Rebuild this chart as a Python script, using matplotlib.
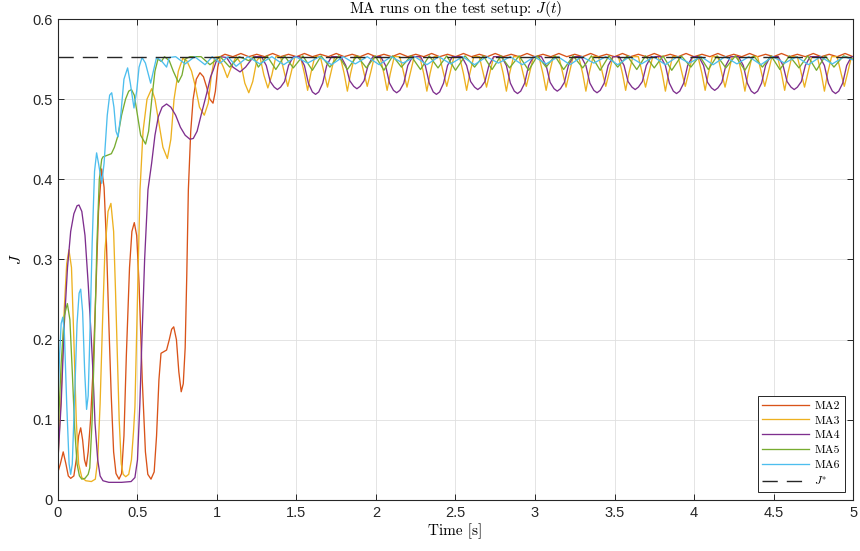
import numpy as np
import matplotlib
matplotlib.use('Agg')
import matplotlib.pyplot as plt

plt.rcParams['mathtext.fontset'] = 'cm'
plt.rcParams['axes.unicode_minus'] = False

# values, (time [s], J)
ma2 = [
    (0.000, 0.035), (0.015, 0.045), (0.033, 0.060), (0.050, 0.045), (0.065, 0.030), (0.080, 0.027), (0.100, 0.030), (0.115, 0.050),
    (0.130, 0.080), (0.143, 0.090), (0.155, 0.075), (0.167, 0.050), (0.178, 0.042), (0.190, 0.060), (0.205, 0.100), (0.220, 0.160),
    (0.240, 0.270), (0.255, 0.360), (0.275, 0.413), (0.290, 0.390), (0.305, 0.320), (0.320, 0.220), (0.335, 0.130), (0.350, 0.060),
    (0.365, 0.033), (0.384, 0.026), (0.400, 0.033), (0.415, 0.080), (0.430, 0.180), (0.450, 0.290), (0.465, 0.335), (0.480, 0.346),
    (0.495, 0.330), (0.510, 0.270), (0.530, 0.150), (0.550, 0.060), (0.565, 0.032), (0.585, 0.026), (0.605, 0.035), (0.620, 0.080),
    (0.635, 0.150), (0.648, 0.183), (0.665, 0.185), (0.683, 0.187), (0.700, 0.200), (0.715, 0.213), (0.728, 0.216), (0.745, 0.200),
    (0.760, 0.160), (0.775, 0.135), (0.788, 0.145), (0.800, 0.190), (0.810, 0.280), (0.820, 0.387), (0.835, 0.460), (0.850, 0.500),
    (0.870, 0.525), (0.893, 0.533), (0.915, 0.528), (0.935, 0.515), (0.955, 0.500), (0.975, 0.495), (0.990, 0.510), (1.005, 0.540),
    (1.020, 0.553), (1.05, 0.556), (1.10, 0.553), (1.15, 0.557), (1.20, 0.553), (1.25, 0.556), (1.30, 0.553), (1.35, 0.557),
    (1.40, 0.553), (1.45, 0.556), (1.50, 0.553), (1.55, 0.557), (1.60, 0.553), (1.65, 0.556), (1.70, 0.553), (1.75, 0.557),
    (1.80, 0.553), (1.85, 0.556), (1.90, 0.553), (1.95, 0.557), (2.00, 0.553), (2.05, 0.556), (2.10, 0.553), (2.15, 0.557),
    (2.20, 0.553), (2.25, 0.556), (2.30, 0.553), (2.35, 0.557), (2.40, 0.553), (2.45, 0.556), (2.50, 0.553), (2.55, 0.557),
    (2.60, 0.553), (2.65, 0.556), (2.70, 0.553), (2.75, 0.557), (2.80, 0.553), (2.85, 0.556), (2.90, 0.553), (2.95, 0.557),
    (3.00, 0.553), (3.05, 0.556), (3.10, 0.553), (3.15, 0.557), (3.20, 0.553), (3.25, 0.556), (3.30, 0.553), (3.35, 0.557),
    (3.40, 0.553), (3.45, 0.556), (3.50, 0.553), (3.55, 0.557), (3.60, 0.553), (3.65, 0.556), (3.70, 0.553), (3.75, 0.557),
    (3.80, 0.553), (3.85, 0.556), (3.90, 0.553), (3.95, 0.557), (4.00, 0.553), (4.05, 0.556), (4.10, 0.553), (4.15, 0.557),
    (4.20, 0.553), (4.25, 0.556), (4.30, 0.553), (4.35, 0.557), (4.40, 0.553), (4.45, 0.556), (4.50, 0.553), (4.55, 0.557),
    (4.60, 0.553), (4.65, 0.556), (4.70, 0.553), (4.75, 0.557), (4.80, 0.553), (4.85, 0.556), (4.90, 0.553), (4.95, 0.557),
    (5.00, 0.553),
]

ma3 = [
    (0.000, 0.050), (0.020, 0.130), (0.040, 0.240), (0.055, 0.295), (0.069, 0.312), (0.085, 0.290), (0.100, 0.200), (0.115, 0.100),
    (0.130, 0.045), (0.150, 0.028), (0.175, 0.024), (0.210, 0.023), (0.235, 0.026), (0.250, 0.050), (0.265, 0.120), (0.280, 0.220),
    (0.295, 0.310), (0.315, 0.360), (0.333, 0.370), (0.350, 0.335), (0.362, 0.260), (0.372, 0.190), (0.385, 0.100), (0.398, 0.045),
    (0.410, 0.032), (0.426, 0.029), (0.445, 0.032), (0.462, 0.050), (0.475, 0.085), (0.484, 0.116), (0.500, 0.250), (0.516, 0.387),
    (0.535, 0.460), (0.560, 0.500), (0.589, 0.513), (0.610, 0.500), (0.635, 0.470), (0.660, 0.440), (0.688, 0.426), (0.710, 0.450),
    (0.730, 0.500), (0.757, 0.535), (0.785, 0.551), (0.810, 0.548), (0.840, 0.535), (0.865, 0.515), (0.890, 0.490), (0.920, 0.480),
    (0.945, 0.495), (0.965, 0.530), (0.985, 0.552), (1.010, 0.553), (1.040, 0.540), (1.065, 0.527), (1.090, 0.540), (1.120, 0.553),
    (1.150, 0.545), (1.175, 0.520), (1.200, 0.508), (1.225, 0.522), (1.250, 0.548), (1.270, 0.553), (1.295, 0.530), (1.320, 0.514),
    (1.345, 0.530), (1.370, 0.553),
    (1.400, 0.553), (1.425, 0.532), (1.445, 0.516), (1.465, 0.532), (1.490, 0.553),
    (1.525, 0.553), (1.550, 0.532), (1.570, 0.511), (1.590, 0.532), (1.615, 0.553),
    (1.650, 0.553), (1.675, 0.532), (1.695, 0.515), (1.715, 0.532), (1.740, 0.553),
    (1.775, 0.553), (1.800, 0.532), (1.820, 0.510), (1.840, 0.532), (1.865, 0.553),
    (1.900, 0.553), (1.925, 0.532), (1.945, 0.516), (1.965, 0.532), (1.990, 0.553),
    (2.025, 0.553), (2.050, 0.532), (2.070, 0.511), (2.090, 0.532), (2.115, 0.553),
    (2.150, 0.553), (2.175, 0.532), (2.195, 0.515), (2.215, 0.532), (2.240, 0.553),
    (2.275, 0.553), (2.300, 0.532), (2.320, 0.510), (2.340, 0.532), (2.365, 0.553),
    (2.400, 0.553), (2.425, 0.532), (2.445, 0.516), (2.465, 0.532), (2.490, 0.553),
    (2.525, 0.553), (2.550, 0.532), (2.570, 0.511), (2.590, 0.532), (2.615, 0.553),
    (2.650, 0.553), (2.675, 0.532), (2.695, 0.515), (2.715, 0.532), (2.740, 0.553),
    (2.775, 0.553), (2.800, 0.532), (2.820, 0.510), (2.840, 0.532), (2.865, 0.553),
    (2.900, 0.553), (2.925, 0.532), (2.945, 0.516), (2.965, 0.532), (2.990, 0.553),
    (3.025, 0.553), (3.050, 0.532), (3.070, 0.511), (3.090, 0.532), (3.115, 0.553),
    (3.150, 0.553), (3.175, 0.532), (3.195, 0.515), (3.215, 0.532), (3.240, 0.553),
    (3.275, 0.553), (3.300, 0.532), (3.320, 0.510), (3.340, 0.532), (3.365, 0.553),
    (3.400, 0.553), (3.425, 0.532), (3.445, 0.516), (3.465, 0.532), (3.490, 0.553),
    (3.525, 0.553), (3.550, 0.532), (3.570, 0.511), (3.590, 0.532), (3.615, 0.553),
    (3.650, 0.553), (3.675, 0.532), (3.695, 0.515), (3.715, 0.532), (3.740, 0.553),
    (3.775, 0.553), (3.800, 0.532), (3.820, 0.510), (3.840, 0.532), (3.865, 0.553),
    (3.900, 0.553), (3.925, 0.532), (3.945, 0.516), (3.965, 0.532), (3.990, 0.553),
    (4.025, 0.553), (4.050, 0.532), (4.070, 0.511), (4.090, 0.532), (4.115, 0.553),
    (4.150, 0.553), (4.175, 0.532), (4.195, 0.515), (4.215, 0.532), (4.240, 0.553),
    (4.275, 0.553), (4.300, 0.532), (4.320, 0.510), (4.340, 0.532), (4.365, 0.553),
    (4.400, 0.553), (4.425, 0.532), (4.445, 0.516), (4.465, 0.532), (4.490, 0.553),
    (4.525, 0.553), (4.550, 0.532), (4.570, 0.511), (4.590, 0.532), (4.615, 0.553),
    (4.650, 0.553), (4.675, 0.532), (4.695, 0.515), (4.715, 0.532), (4.740, 0.553),
    (4.775, 0.553), (4.800, 0.532), (4.820, 0.510), (4.840, 0.532), (4.865, 0.553),
    (4.900, 0.553), (4.925, 0.532), (4.945, 0.516), (4.965, 0.532), (4.990, 0.553),
    (5.000, 0.553),
]

ma4 = [
    (0.000, 0.050), (0.020, 0.120), (0.040, 0.220), (0.060, 0.290), (0.080, 0.335), (0.100, 0.357), (0.120, 0.367), (0.132, 0.368),
    (0.150, 0.360), (0.170, 0.330), (0.190, 0.270), (0.210, 0.200), (0.220, 0.160), (0.233, 0.096), (0.250, 0.050), (0.265, 0.030),
    (0.283, 0.024), (0.320, 0.022), (0.400, 0.022), (0.460, 0.023), (0.484, 0.028), (0.500, 0.050), (0.515, 0.120), (0.528, 0.200),
    (0.545, 0.300), (0.566, 0.387), (0.589, 0.420), (0.610, 0.455), (0.631, 0.478), (0.655, 0.490), (0.683, 0.494), (0.710, 0.490),
    (0.740, 0.480), (0.770, 0.465), (0.800, 0.455), (0.830, 0.450), (0.851, 0.451), (0.875, 0.460), (0.900, 0.480), (0.935, 0.507),
    (0.960, 0.528), (0.976, 0.536), (1.000, 0.550), (1.020, 0.553), (1.060, 0.552), (1.100, 0.540), (1.145, 0.534), (1.180, 0.540),
    (1.230, 0.553),
    (1.28, 0.553), (1.31, 0.542), (1.335, 0.522), (1.36, 0.515), (1.38, 0.512), (1.40, 0.515), (1.425, 0.522), (1.45, 0.542), (1.48, 0.553),
    (1.52, 0.553), (1.55, 0.542), (1.575, 0.520), (1.60, 0.509), (1.62, 0.506), (1.64, 0.509), (1.665, 0.520), (1.69, 0.542), (1.72, 0.553),
    (1.78, 0.553), (1.81, 0.542), (1.835, 0.523), (1.86, 0.516), (1.88, 0.513), (1.90, 0.516), (1.925, 0.523), (1.95, 0.542), (1.98, 0.553),
    (2.03, 0.553), (2.06, 0.542), (2.085, 0.520), (2.11, 0.511), (2.13, 0.508), (2.15, 0.511), (2.175, 0.520), (2.20, 0.542), (2.23, 0.553),
    (2.28, 0.553), (2.31, 0.542), (2.335, 0.520), (2.36, 0.509), (2.38, 0.506), (2.40, 0.509), (2.425, 0.520), (2.45, 0.542), (2.48, 0.553),
    (2.54, 0.553), (2.57, 0.542), (2.595, 0.522), (2.62, 0.515), (2.64, 0.512), (2.66, 0.515), (2.685, 0.522), (2.71, 0.542), (2.74, 0.553),
    (2.79, 0.553), (2.82, 0.542), (2.845, 0.520), (2.87, 0.510), (2.89, 0.507), (2.91, 0.510), (2.935, 0.520), (2.96, 0.542), (2.99, 0.553),
    (3.04, 0.553), (3.07, 0.542), (3.095, 0.521), (3.12, 0.513), (3.14, 0.510), (3.16, 0.513), (3.185, 0.521), (3.21, 0.542), (3.24, 0.553),
    (3.29, 0.553), (3.32, 0.542), (3.345, 0.520), (3.37, 0.511), (3.39, 0.508), (3.41, 0.511), (3.435, 0.520), (3.46, 0.542), (3.49, 0.553),
    (3.53, 0.553), (3.56, 0.542), (3.585, 0.522), (3.61, 0.515), (3.63, 0.512), (3.65, 0.515), (3.675, 0.522), (3.70, 0.542), (3.73, 0.553),
    (3.79, 0.553), (3.82, 0.542), (3.845, 0.520), (3.87, 0.510), (3.89, 0.507), (3.91, 0.510), (3.935, 0.520), (3.96, 0.542), (3.99, 0.553),
    (4.03, 0.553), (4.06, 0.542), (4.085, 0.521), (4.11, 0.514), (4.13, 0.511), (4.15, 0.514), (4.175, 0.521), (4.20, 0.542), (4.23, 0.553),
    (4.28, 0.553), (4.31, 0.542), (4.335, 0.520), (4.36, 0.510), (4.38, 0.507), (4.40, 0.510), (4.425, 0.520), (4.45, 0.542), (4.48, 0.553),
    (4.53, 0.553), (4.56, 0.542), (4.585, 0.522), (4.61, 0.515), (4.63, 0.512), (4.65, 0.515), (4.675, 0.522), (4.70, 0.542), (4.73, 0.553),
    (4.79, 0.553), (4.82, 0.542), (4.845, 0.520), (4.87, 0.510), (4.89, 0.507), (4.91, 0.510), (4.935, 0.520), (4.96, 0.542), (4.99, 0.553),
    (5.00, 0.553),
]

ma5 = [
    (0.000, 0.080), (0.020, 0.170), (0.040, 0.230), (0.059, 0.245), (0.075, 0.225), (0.090, 0.160), (0.105, 0.090), (0.120, 0.045),
    (0.135, 0.030), (0.150, 0.026), (0.170, 0.027), (0.190, 0.032), (0.200, 0.040), (0.215, 0.100), (0.230, 0.200), (0.245, 0.320),
    (0.260, 0.400), (0.275, 0.425), (0.283, 0.428), (0.310, 0.430), (0.336, 0.432), (0.355, 0.440), (0.378, 0.455), (0.400, 0.480),
    (0.425, 0.500), (0.445, 0.510), (0.462, 0.512), (0.480, 0.505), (0.500, 0.480), (0.520, 0.455), (0.551, 0.444), (0.570, 0.460),
    (0.590, 0.500), (0.610, 0.535), (0.629, 0.550), (0.650, 0.547), (0.670, 0.553), (0.700, 0.548), (0.725, 0.535), (0.757, 0.521),
    (0.780, 0.530), (0.800, 0.550), (0.830, 0.553), (0.900, 0.553), (0.956, 0.543), (1.020, 0.553), (1.080, 0.540), (1.140, 0.553),
    (1.200, 0.548), (1.230, 0.553), (1.260, 0.540), (1.315, 0.554),
    (1.37, 0.537), (1.425, 0.554), (1.48, 0.539), (1.54, 0.554), (1.60, 0.536), (1.655, 0.554), (1.71, 0.540), (1.765, 0.554),
    (1.82, 0.537), (1.88, 0.554), (1.94, 0.539), (1.995, 0.554), (2.05, 0.536), (2.105, 0.554), (2.16, 0.540), (2.22, 0.554),
    (2.28, 0.537), (2.335, 0.554), (2.39, 0.539), (2.445, 0.554), (2.50, 0.536), (2.56, 0.554), (2.62, 0.540), (2.675, 0.554),
    (2.73, 0.537), (2.785, 0.554), (2.84, 0.539), (2.90, 0.554), (2.96, 0.536), (3.015, 0.554), (3.07, 0.540), (3.125, 0.554),
    (3.18, 0.537), (3.24, 0.554), (3.30, 0.539), (3.355, 0.554), (3.41, 0.536), (3.465, 0.554), (3.52, 0.540), (3.58, 0.554),
    (3.64, 0.537), (3.695, 0.554), (3.75, 0.539), (3.805, 0.554), (3.86, 0.536), (3.92, 0.554), (3.98, 0.540), (4.035, 0.554),
    (4.09, 0.537), (4.145, 0.554), (4.20, 0.539), (4.26, 0.554), (4.32, 0.536), (4.375, 0.554), (4.43, 0.540), (4.485, 0.554),
    (4.54, 0.537), (4.60, 0.554), (4.66, 0.539), (4.715, 0.554), (4.77, 0.536), (4.825, 0.554), (4.88, 0.540), (4.94, 0.554),
    (5.00, 0.550),
]

ma6 = [
    (0.000, 0.120), (0.010, 0.180), (0.020, 0.220), (0.030, 0.228), (0.040, 0.210), (0.055, 0.120), (0.070, 0.045), (0.080, 0.032),
    (0.090, 0.045), (0.105, 0.130), (0.120, 0.220), (0.133, 0.258), (0.143, 0.263), (0.155, 0.235), (0.168, 0.160), (0.180, 0.113),
    (0.190, 0.130), (0.200, 0.200), (0.215, 0.320), (0.230, 0.410), (0.243, 0.433), (0.255, 0.420), (0.275, 0.395), (0.290, 0.420),
    (0.310, 0.480), (0.325, 0.505), (0.338, 0.508), (0.352, 0.490), (0.365, 0.460), (0.378, 0.453), (0.395, 0.480), (0.415, 0.525),
    (0.438, 0.539), (0.455, 0.520), (0.478, 0.489), (0.495, 0.510), (0.510, 0.540), (0.529, 0.552), (0.550, 0.545), (0.583, 0.520),
    (0.600, 0.535), (0.620, 0.552), (0.650, 0.548), (0.683, 0.540), (0.700, 0.552), (0.740, 0.553), (0.800, 0.544), (0.860, 0.553),
    (0.925, 0.543), (0.970, 0.553), (1.020, 0.545), (1.070, 0.553), (1.120, 0.541), (1.195, 0.553),
    (1.27, 0.544), (1.345, 0.553), (1.42, 0.543), (1.495, 0.553), (1.57, 0.545), (1.645, 0.553), (1.72, 0.543), (1.795, 0.553),
    (1.87, 0.544), (1.945, 0.553), (2.02, 0.543), (2.095, 0.553), (2.17, 0.545), (2.245, 0.553), (2.32, 0.543), (2.395, 0.553),
    (2.47, 0.544), (2.545, 0.553), (2.62, 0.543), (2.695, 0.553), (2.77, 0.545), (2.845, 0.553), (2.92, 0.543), (2.995, 0.553),
    (3.07, 0.544), (3.145, 0.553), (3.22, 0.543), (3.295, 0.553), (3.37, 0.545), (3.445, 0.553), (3.52, 0.543), (3.595, 0.553),
    (3.67, 0.544), (3.745, 0.553), (3.82, 0.543), (3.895, 0.553), (3.97, 0.545), (4.045, 0.553), (4.12, 0.543), (4.195, 0.553),
    (4.27, 0.544), (4.345, 0.553), (4.42, 0.543), (4.495, 0.553), (4.57, 0.545), (4.645, 0.553), (4.72, 0.543), (4.795, 0.553),
    (4.87, 0.544), (4.945, 0.553), (5.00, 0.549),
]

j_star = 0.5525
series_names = ['MA2', 'MA3', 'MA4', 'MA5', 'MA6']
series_data = [ma2, ma3, ma4, ma5, ma6]
colors = ['#D95319', '#EDB120', '#7E2F8E', '#77AC30', '#4DBEEE']

x_ticks = [0, 0.5, 1, 1.5, 2, 2.5, 3, 3.5, 4, 4.5, 5]
x_ticklabels = ['0', '0.5', '1', '1.5', '2', '2.5', '3', '3.5', '4', '4.5', '5']
y_ticks = [0, 0.1, 0.2, 0.3, 0.4, 0.5, 0.6]
y_ticklabels = ['0', '0.1', '0.2', '0.3', '0.4', '0.5', '0.6']

serif = 'cmr10'

fig = plt.figure(figsize=(8.6, 5.51), dpi=100)
ax = fig.add_axes([0.0674, 0.0926, 0.9245, 0.8729])

for name, pts, c in zip(series_names, series_data, colors):
    arr = np.array(pts)
    ax.plot(arr[:, 0], arr[:, 1], color=c, lw=0.95, label=name)
ax.axhline(j_star, color='#262626', lw=1.0, ls=(0, (11, 6.5)), label=r'$J^{*}$')

ax.set_xlim(0, 5)
ax.set_ylim(0, 0.6)
ax.set_xticks(x_ticks)
ax.set_xticklabels(x_ticklabels)
ax.set_yticks(y_ticks)
ax.set_yticklabels(y_ticklabels)
tick_font = ['Liberation Sans Narrow', 'Liberation Sans', 'DejaVu Sans']
for lab in ax.get_xticklabels() + ax.get_yticklabels():
    lab.set_family(tick_font)
    lab.set_fontsize(10.5)
    lab.set_color('#262626')

ax.tick_params(direction='in', length=4.5, width=0.7, top=True, right=True, colors='#262626', pad=4)
for sp in ax.spines.values():
    sp.set_color('#262626')
    sp.set_linewidth(0.8)
ax.grid(True, color='#dfdfdf', lw=0.6)
ax.set_axisbelow(True)

ax.set_title(r'MA runs on the test setup: $J(t)$', fontsize=11, pad=4, family=serif)
ax.set_xlabel('Time [s]', fontsize=11, labelpad=3, family=serif)
ax.set_ylabel(r'$J$', fontsize=11, labelpad=6)

leg = ax.legend(loc='lower right', prop={'family': serif, 'size': 8.5}, fancybox=False, framealpha=1,
                edgecolor='#262626', handlelength=3.9, labelspacing=0.38, borderpad=0.4,
                handletextpad=0.5, borderaxespad=0.7)
leg.get_frame().set_linewidth(0.7)

fig.savefig('out.png', dpi=100)
